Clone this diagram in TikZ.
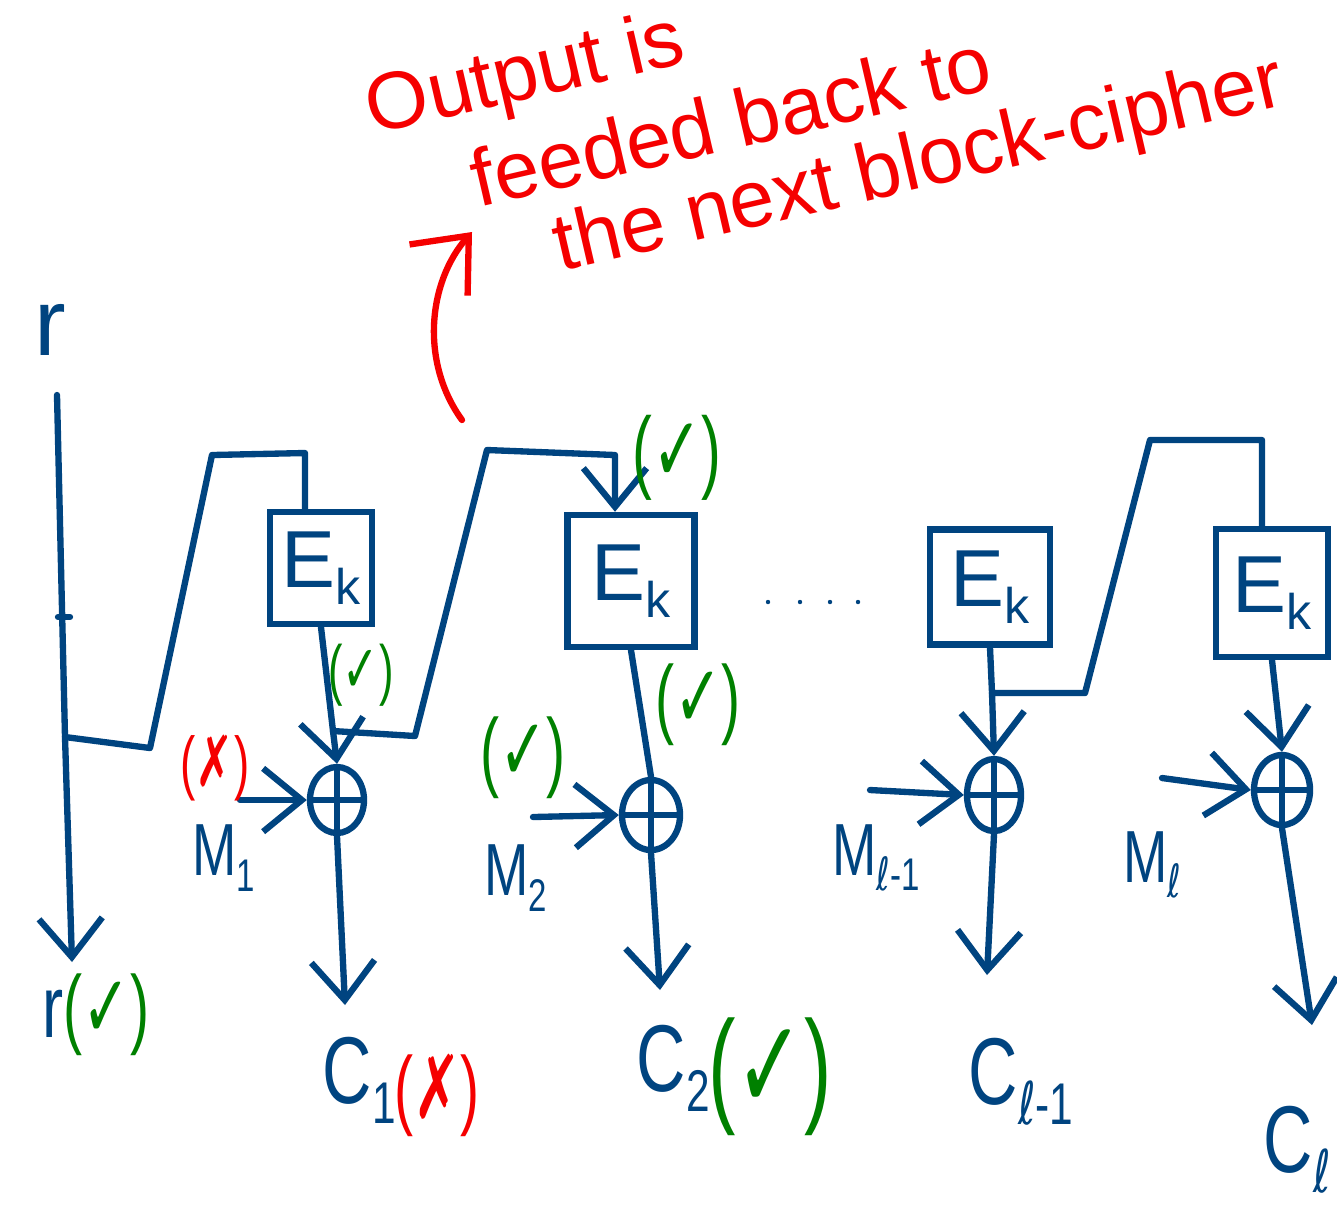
\documentclass[tikz,border=0pt]{standalone}
\usepackage{fontspec}
\usepackage{graphicx}
\setmainfont{Liberation Sans}
\newfontfamily\symfont{DejaVu Sans}
\usetikzlibrary{arrows.meta,shapes.geometric}

\definecolor{ink}{RGB}{0,68,128}
\definecolor{okgreen}{RGB}{0,128,0}
\definecolor{badred}{RGB}{245,0,0}

% tall, narrow verdict marks
\newcommand{\okmark}{\textcolor{okgreen}{\scalebox{0.65}[1]{({\symfont ✓})}}}
\newcommand{\badmark}{\textcolor{badred}{\scalebox{0.65}[1]{({\symfont ✗})}}}
\newcommand{\lowsub}[1]{\raisebox{-0.4ex}{\scalebox{0.62}{#1}}}
\newcommand{\narrow}[1]{\scalebox{0.72}[1]{#1}}
\newcommand{\scriptl}{{\symfont ℓ}}
\newcommand{\pts}[1]{\fontsize{#1}{#1}\selectfont}

\tikzset{
  wire/.style={ink, line width=1.8pt, line cap=round, line join=round},
  arr/.style={wire, -{Straight Barb[length=11pt,width=18pt]}},
  cipher/.style={draw=ink, line width=1.8pt, text=ink, inner sep=0pt,
    font=\pts{23}},
  xor/.style={ellipse, draw=ink, line width=1.8pt, inner sep=0pt,
    path picture={\draw[ink, line width=1.8pt]
      (path picture bounding box.north) -- (path picture bounding box.south)
      (path picture bounding box.west) -- (path picture bounding box.east);}},
  lbl/.style={text=ink, inner sep=0pt, font=\pts{21}},
  big/.style={text=ink, inner sep=0pt, font=\pts{27}},
  verdict/.style={inner sep=0pt},
  note/.style={text=badred, inner sep=0pt, rotate=13, anchor=base west,
    font=\pts{23}},
  notearr/.style={badred, line width=1.8pt, line cap=round,
    -{Straight Barb[length=13pt,width=22pt]}}
}

\begin{document}
\begin{tikzpicture}[x=0.01cm, y=-0.01cm]
\clip (0,0) rectangle (1337,1220);
\fill[white] (0,0) rectangle (1337,1220);

% remark about the feedback
\node[note] (note1) at (372,135) {Output is};
\node[note] (note2) at (478,208) {feeded back to};
\node[note] (note3) at (560,272) {the next block-cipher};
\coordinate (cs) at (462,420);
\coordinate (ce) at (472,232);
\draw[notearr] (cs) .. controls (420,362) and (428,282) .. (ce);

% initial value r
\node[big] (rin) at (50,330) {r};
\coordinate (rtop) at (57,395);
\coordinate (fb1a) at (65,737);
\coordinate (rend) at (72,962);
\draw[arr] (rtop) -- (fb1a) -- (rend);
\draw[wire] (58,617) -- (70,617);
\node[verdict, anchor=west] (rlab) at (42,1015) {\pts{25}\textcolor{ink}{\narrow{r}}\okmark};

% block ciphers
\node[cipher, minimum width=1.02cm, minimum height=1.12cm] (box1) at (321,568) {E\lowsub{k}};
\node[cipher, minimum width=1.27cm, minimum height=1.32cm] (box2) at (631,581) {E\lowsub{k}};
\node[cipher, minimum width=1.20cm, minimum height=1.15cm] (box3) at (990,587) {E\lowsub{k}};
\node[cipher, minimum width=1.12cm, minimum height=1.28cm] (box4) at (1272,593) {E\lowsub{k}};

% xor gates
\node[xor, minimum width=0.54cm, minimum height=0.66cm] (x1) at (337,800) {};
\node[xor, minimum width=0.58cm, minimum height=0.70cm] (x2) at (651,815) {};
\node[xor, minimum width=0.54cm, minimum height=0.72cm] (x3) at (994,795) {};
\node[xor, minimum width=0.56cm, minimum height=0.70cm] (x4) at (1282,790) {};

% feedback into the first cipher
\coordinate (k1top) at (305,453);
\draw[wire] (fb1a) -- (150,748) -- (212,455) -- (k1top) -- (k1top |- box1.north);

% first stage
\coordinate (b1) at (333,731);
\draw[wire] (box1.south) -- (b1);
\draw[arr] (b1) -- (x1.north);
\coordinate (k2top) at (615,455);
\draw[arr] (b1) -- (415,736) -- (487,450) -- (k2top) -- (k2top |- box2.north);

% second stage
\draw[wire] (box2.south) -- (x2.north);

% last two stages
\coordinate (b3) at (992,693);
\draw[wire] (box3.south) -- (b3);
\draw[arr] (b3) -- (x3.north);
\coordinate (k4top) at (1262,440);
\draw[wire] (b3) -- (1085,693) -- (1150,440) -- (k4top) -- (k4top |- box4.north);
\draw[arr] (box4.south) -- (x4.north);

% message inputs
\coordinate (m1s) at (240,800);
\coordinate (m2s) at (533,817);
\coordinate (m3s) at (870,790);
\coordinate (m4s) at (1162,778);
\draw[arr] (m1s) -- (x1.west);
\draw[arr] (m2s) -- (x2.west);
\draw[arr] (m3s) -- (x3.west);
\draw[arr] (m4s) -- (x4.west);

% ciphertext outputs
\coordinate (c1e) at (345,1005);
\coordinate (c2e) at (660,990);
\coordinate (c3e) at (987,975);
\coordinate (c4e) at (1312,1025);
\draw[arr] (x1.south) -- (c1e);
\draw[arr] (x2.south) -- (c2e);
\draw[arr] (x3.south) -- (c3e);
\draw[arr] (x4.south) -- (c4e);

% labels
\node[lbl] (m1) at (224,858) {\narrow{M\lowsub{1}}};
\node[lbl] (m2) at (516,878) {\narrow{M\lowsub{2}}};
\node[lbl] (m3) at (876,858) {\narrow{M\lowsub{\scriptl-1}}};
\node[lbl] (m4) at (1152,865) {\narrow{M\lowsub{\scriptl}}};
\node[big, anchor=west] (c1) at (322,1080) {\narrow{C\lowsub{1}}};
\node[big, anchor=west] (c2) at (636,1068) {\narrow{C\lowsub{2}}};
\node[big, anchor=west] (c3) at (968,1082) {\narrow{C\lowsub{\scriptl-1}}};
\node[big, anchor=west] (c4) at (1263,1150) {\narrow{C\lowsub{\scriptl}}};

% correctness marks
\node[verdict] (ok1) at (361,675) {\pts{19}\okmark};
\node[verdict] (bad1) at (215,768) {\pts{20}\badmark};
\node[verdict] (bad2) at (437,1095) {\pts{25}\badmark};
\node[verdict] (ok2) at (677,458) {\pts{26}\okmark};
\node[verdict] (ok3) at (698,705) {\pts{25}\okmark};
\node[verdict] (ok4) at (523,758) {\pts{25}\okmark};
\node[verdict] (ok5) at (770,1077) {\pts{36}\okmark};

% ellipsis between stages
\foreach \px in {768,800,830,858}
  \fill[ink] (\px,602) circle (2.2);
\end{tikzpicture}
\end{document}
